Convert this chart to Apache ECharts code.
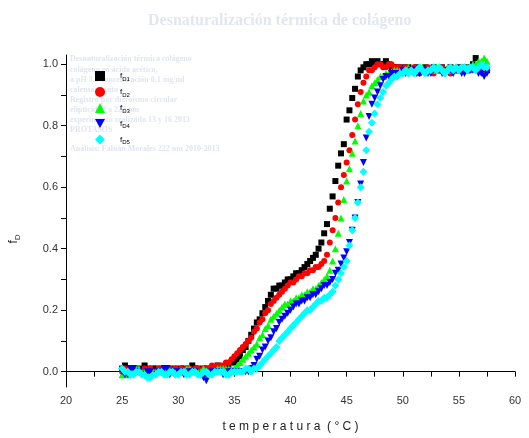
<!DOCTYPE html>
<html>
<head>
<meta charset="utf-8">
<title>Desnaturalización térmica de colágeno</title>
<script src="https://cdn.jsdelivr.net/npm/echarts@6/dist/echarts.min.js"></script>
<style>
  html, body { margin: 0; padding: 0; background: #fff; }
  #main { width: 529px; height: 438px; }
</style>
</head>
<body>
<div id="main"></div>
<script>
// temperatura (°C)
var temps = [
  25, 25.25, 25.5, 25.75, 26, 26.25, 26.5, 26.75, 27, 27.25,
  27.5, 27.75, 28, 28.25, 28.5, 28.75, 29, 29.25, 29.5, 29.75,
  30, 30.25, 30.5, 30.75, 31, 31.25, 31.5, 31.75, 32, 32.25,
  32.5, 32.75, 33, 33.25, 33.5, 33.75, 34, 34.25, 34.5, 34.75,
  35, 35.25, 35.5, 35.75, 36, 36.25, 36.5, 36.75, 37, 37.25,
  37.5, 37.75, 38, 38.25, 38.5, 38.75, 39, 39.25, 39.5, 39.75,
  40, 40.25, 40.5, 40.75, 41, 41.25, 41.5, 41.75, 42, 42.25,
  42.5, 42.75, 43, 43.25, 43.5, 43.75, 44, 44.25, 44.5, 44.75,
  45, 45.25, 45.5, 45.75, 46, 46.25, 46.5, 46.75, 47, 47.25,
  47.5, 47.75, 48, 48.25, 48.5, 48.75, 49, 49.25, 49.5, 49.75,
  50, 50.25, 50.5, 50.75, 51, 51.25, 51.5, 51.75, 52, 52.25,
  52.5, 52.75, 53, 53.25, 53.5, 53.75, 54, 54.25, 54.5, 54.75,
  55, 55.25, 55.5, 55.75, 56, 56.25, 56.5, 56.75, 57, 57.25,
  57.5
];

// fD
var fD1 = [
  0.01, 0.02, 0.01, 0.00, 0.01, 0.01, 0.00, 0.01, 0.02, 0.01,
  0.00, 0.01, 0.01, 0.00, 0.01, 0.00, 0.01, 0.01, 0.00, 0.01,
  0.00, 0.01, 0.01, 0.00, 0.01, 0.02, 0.01, 0.01, 0.00, 0.01,
  0.01, 0.00, 0.01, 0.01, 0.02, 0.01, 0.01, 0.02, 0.02, 0.03,
  0.03, 0.04, 0.05, 0.07, 0.08, 0.10, 0.12, 0.14, 0.16, 0.17,
  0.19, 0.21, 0.23, 0.25, 0.27, 0.27, 0.28, 0.28, 0.29, 0.30,
  0.30, 0.31, 0.32, 0.32, 0.33, 0.34, 0.35, 0.36, 0.37, 0.38,
  0.40, 0.42, 0.45, 0.48, 0.53, 0.57, 0.62, 0.67, 0.71, 0.74,
  0.82, 0.85, 0.89, 0.92, 0.96, 0.98, 0.99, 1.00, 1.00, 1.01,
  1.00, 1.01, 1.00, 1.00, 1.01, 1.00, 0.99, 0.99, 0.99, 0.98,
  0.99, 0.98, 0.99, 0.98, 0.98, 0.99, 0.98, 0.98, 0.99, 0.98,
  0.98, 0.99, 0.98, 0.98, 0.99, 0.98, 0.98, 0.99, 0.98, 0.98,
  0.99, 0.98, 0.99, 0.98, 0.99, 1.00, 1.02, 0.99, 0.98, 0.99,
  0.98
];
var fD2 = [
  0.00, 0.01, 0.00, 0.01, 0.00, 0.01, 0.00, 0.00, 0.01, 0.00,
  0.01, 0.00, 0.00, 0.01, 0.00, 0.01, 0.00, 0.01, 0.00, 0.01,
  0.00, 0.01, 0.00, 0.01, 0.01, 0.00, 0.01, 0.01, 0.00, 0.01,
  0.01, 0.01, 0.02, 0.01, 0.02, 0.02, 0.02, 0.03, 0.03, 0.04,
  0.05, 0.06, 0.07, 0.08, 0.09, 0.10, 0.11, 0.13, 0.14, 0.16,
  0.17, 0.19, 0.20, 0.22, 0.23, 0.24, 0.25, 0.26, 0.27, 0.28,
  0.29, 0.29, 0.30, 0.31, 0.31, 0.32, 0.32, 0.33, 0.33, 0.34,
  0.34, 0.35, 0.36, 0.38, 0.42, 0.46, 0.50, 0.55, 0.60, 0.64,
  0.68, 0.72, 0.77, 0.82, 0.87, 0.91, 0.94, 0.96, 0.98, 0.98,
  0.99, 1.00, 1.00, 0.99, 0.99, 1.00, 1.00, 0.99, 0.99, 0.99,
  0.98, 0.99, 0.98, 0.98, 0.99, 0.98, 0.97, 0.98, 0.98, 0.99,
  0.98, 0.97, 0.98, 0.98, 0.99, 0.98, 0.98, 0.97, 0.98, 0.98,
  0.98, 0.99, 0.98, 0.98, 0.98, 0.99, 0.99, 0.98, 0.99, 0.98,
  0.98
];
var fD3 = [
  -0.01, 0.00, -0.01, 0.00, 0.00, 0.01, 0.01, 0.00, 0.00, -0.01,
  -0.01, 0.00, 0.00, 0.00, 0.00, 0.01, 0.01, 0.00, 0.00, 0.00,
  0.00, 0.00, 0.00, 0.01, 0.01, 0.00, 0.00, 0.00, 0.00, 0.01,
  0.00, 0.00, 0.00, 0.00, 0.01, 0.01, 0.01, 0.01, 0.01, 0.01,
  0.01, 0.02, 0.03, 0.04, 0.05, 0.06, 0.07, 0.08, 0.09, 0.11,
  0.12, 0.14, 0.15, 0.17, 0.18, 0.19, 0.20, 0.21, 0.22, 0.22,
  0.23, 0.23, 0.24, 0.24, 0.25, 0.25, 0.26, 0.26, 0.27, 0.27,
  0.28, 0.29, 0.30, 0.31, 0.33, 0.36, 0.40, 0.45, 0.50, 0.56,
  0.62, 0.66, 0.71, 0.75, 0.80, 0.84, 0.88, 0.90, 0.91, 0.93,
  0.94, 0.95, 0.96, 0.96, 0.97, 0.97, 0.975, 0.98, 0.98, 0.98,
  0.98, 0.98, 0.99, 0.98, 0.98, 0.98, 0.98, 0.99, 0.98, 0.98,
  0.98, 0.98, 0.99, 0.98, 0.98, 0.98, 0.99, 0.98, 0.98, 0.99,
  0.98, 0.99, 0.98, 0.99, 0.99, 1.00, 1.00, 1.01, 1.01, 1.02,
  1.01
];
var fD4 = [
  0.00, -0.01, -0.01, 0.01, 0.01, 0.00, 0.00, -0.01, -0.01, 0.00,
  0.00, -0.01, -0.01, 0.00, 0.00, 0.01, 0.01, -0.01, 0.00, -0.01,
  0.00, 0.00, -0.01, -0.01, 0.00, 0.00, 0.00, -0.01, -0.01, -0.02,
  -0.03, -0.01, 0.00, 0.00, 0.00, 0.00, -0.01, -0.01, 0.00, 0.00,
  0.00, 0.00, 0.00, 0.00, 0.00, 0.00, 0.01, 0.02, 0.04, 0.05,
  0.07, 0.08, 0.10, 0.11, 0.13, 0.14, 0.16, 0.17, 0.18, 0.19,
  0.20, 0.21, 0.22, 0.22, 0.23, 0.23, 0.24, 0.24, 0.25, 0.25,
  0.26, 0.27, 0.28, 0.28, 0.29, 0.30, 0.32, 0.33, 0.35, 0.37,
  0.39, 0.42, 0.46, 0.50, 0.55, 0.61, 0.68, 0.76, 0.83, 0.87,
  0.89, 0.91, 0.93, 0.95, 0.96, 0.96, 0.97, 0.97, 0.97, 0.97,
  0.98, 0.97, 0.97, 0.98, 0.98, 0.97, 0.97, 0.98, 0.98, 0.97,
  0.97, 0.98, 0.98, 0.98, 0.97, 0.97, 0.98, 0.98, 0.97, 0.98,
  0.98, 0.97, 0.97, 0.98, 0.98, 0.98, 0.98, 0.97, 0.97, 0.96,
  0.97
];
var fD5 = [
  0.01, 0.00, 0.00, -0.01, -0.01, 0.00, 0.00, -0.01, -0.01, -0.02,
  -0.02, -0.01, -0.01, 0.00, 0.00, -0.01, -0.01, 0.00, 0.00, -0.01,
  -0.01, 0.00, 0.00, -0.01, -0.01, 0.00, 0.00, -0.01, -0.01, 0.00,
  0.00, -0.01, -0.01, 0.00, 0.00, 0.00, 0.00, -0.01, -0.01, 0.00,
  0.00, 0.00, 0.00, 0.00, 0.01, 0.01, 0.00, 0.01, 0.01, 0.02,
  0.03, 0.04, 0.05, 0.06, 0.07, 0.08, 0.10, 0.11, 0.12, 0.13,
  0.14, 0.15, 0.16, 0.17, 0.18, 0.19, 0.20, 0.20, 0.21, 0.22,
  0.23, 0.23, 0.24, 0.24, 0.25, 0.26, 0.28, 0.30, 0.32, 0.34,
  0.36, 0.41, 0.46, 0.50, 0.55, 0.60, 0.65, 0.72, 0.78, 0.81,
  0.84, 0.87, 0.89, 0.91, 0.93, 0.94, 0.95, 0.96, 0.96, 0.97,
  0.97, 0.98, 0.97, 0.98, 0.97, 0.98, 0.99, 0.98, 0.97, 0.98,
  0.98, 0.99, 0.98, 0.99, 0.98, 0.97, 0.98, 0.99, 0.98, 0.99,
  0.98, 0.99, 0.99, 0.98, 0.99, 0.99, 0.98, 0.99, 1.00, 0.99,
  0.99
];

var seriesNames = ['fD1', 'fD2', 'fD3', 'fD4', 'fD5'];
var seriesData = [fD1, fD2, fD3, fD4, fD5];
var colors = ['#000000', '#ff0000', '#00ff00', '#0000ff', '#00ffff'];
var symbols = ['rect', 'circle', 'triangle', 'path://M0,0 L10,0 L5,9 Z', 'diamond'];
var sizes = [6, 6, 7, 7, 8];

var xTicks = [20, 22.5, 25, 27.5, 30, 32.5, 35, 37.5, 40, 42.5, 45, 47.5, 50, 52.5, 55, 57.5, 60];
var xLabels = [20, 25, 30, 35, 40, 45, 50, 55, 60];
var yTicks = [0, 0.1, 0.2, 0.3, 0.4, 0.5, 0.6, 0.7, 0.8, 0.9, 1.0];
var yLabels = [0, 0.2, 0.4, 0.6, 0.8, 1.0];

// texto tenue de la leyenda original
var noteLines = [
  'Desnaturalización térmica colágeno',
  'colágeno en ácido acético,',
  'a pH 3.5 concentración 0.1 mg/ml',
  'calentamiento',
  'Registro por dicroísmo circular',
  'elipticidad a 222 nm',
  'experimento realizado 13 y 16 2013',
  'PROTASOS',
  'Análisis: Fabián Morales 222 nm 2010-2013'
];
var noteY = [60, 71, 81, 91, 101, 111, 121, 131, 150];

var myChart = echarts.init(document.getElementById('main'));

var series = [];
for (var i = 0; i < seriesData.length; i++) {
  var pts = [];
  for (var j = 0; j < temps.length; j++) {
    pts.push([temps[j], seriesData[i][j]]);
  }
  series.push({
    name: seriesNames[i],
    type: 'scatter',
    data: pts,
    symbol: symbols[i],
    symbolSize: sizes[i],
    itemStyle: { color: colors[i], opacity: 1 },
    emphasis: { disabled: true },
    animation: false
  });
}

var notes = [];
for (var k = 0; k < noteLines.length; k++) {
  notes.push({
    type: 'text',
    left: 70,
    top: noteY[k] - 5,
    z: -1,
    style: {
      text: noteLines[k],
      fill: '#e0e5ef',
      font: 'bold 8px "Liberation Serif"'
    }
  });
}

var labelFont = { color: '#333', fontFamily: 'Liberation Sans', fontSize: 11 };

option = {
  backgroundColor: '#ffffff',
  animation: false,
  title: {
    text: 'Desnaturalización térmica de colágeno',
    left: 143,
    top: 8,
    textStyle: {
      color: '#e2e6ef',
      fontFamily: 'Liberation Serif',
      fontWeight: 'bold',
      fontSize: 16
    }
  },
  graphic: notes,
  legend: {
    orient: 'vertical',
    left: 90,
    top: 66,
    itemWidth: 10,
    itemHeight: 10,
    itemGap: 5,
    selectedMode: false,
    data: seriesNames,
    formatter: function (name) {
      return 'f{s|' + name.slice(1) + '}';
    },
    textStyle: {
      color: '#000',
      fontFamily: 'Liberation Sans',
      fontSize: 8,
      padding: [0, 0, 0, 10],
      rich: {
        s: { fontSize: 6, verticalAlign: 'bottom', padding: [6, 0, 0, 0], color: '#000' }
      }
    }
  },
  grid: {
    left: 66,
    right: 14,
    top: 55,
    bottom: 51,
    outerBoundsMode: 'none'
  },
  xAxis: {
    type: 'value',
    min: 20,
    max: 60,
    name: 't e m p e r a t u r a  ( ° C )',
    nameLocation: 'middle',
    nameGap: 34,
    nameTextStyle: { color: '#222', fontFamily: 'Liberation Sans', fontSize: 12 },
    axisLine: { lineStyle: { color: '#000', width: 1 } },
    axisTick: { length: 5, customValues: xTicks, lineStyle: { color: '#000' } },
    axisLabel: Object.assign({ customValues: xLabels, margin: 8 }, labelFont),
    splitLine: { show: false }
  },
  yAxis: {
    type: 'value',
    min: -0.05,
    max: 1.03,
    name: 'f{s|D}',
    nameLocation: 'middle',
    nameGap: 44,
    nameRotate: 90,
    nameTextStyle: {
      color: '#222', fontFamily: 'Liberation Sans', fontSize: 12,
      padding: [0, 0, 0, -36],
      rich: { s: { fontSize: 8, color: '#222', padding: [8, 0, 0, 0] } }
    },
    axisLine: { show: true, lineStyle: { color: '#000', width: 1 } },
    axisTick: { show: true, length: 5, customValues: yTicks, lineStyle: { color: '#000' } },
    axisLabel: Object.assign({
      customValues: yLabels,
      margin: 8,
      formatter: function (v) { return v.toFixed(1); }
    }, labelFont),
    splitLine: { show: false }
  },
  series: series
};

myChart.setOption(option);
</script>
</body>
</html>
